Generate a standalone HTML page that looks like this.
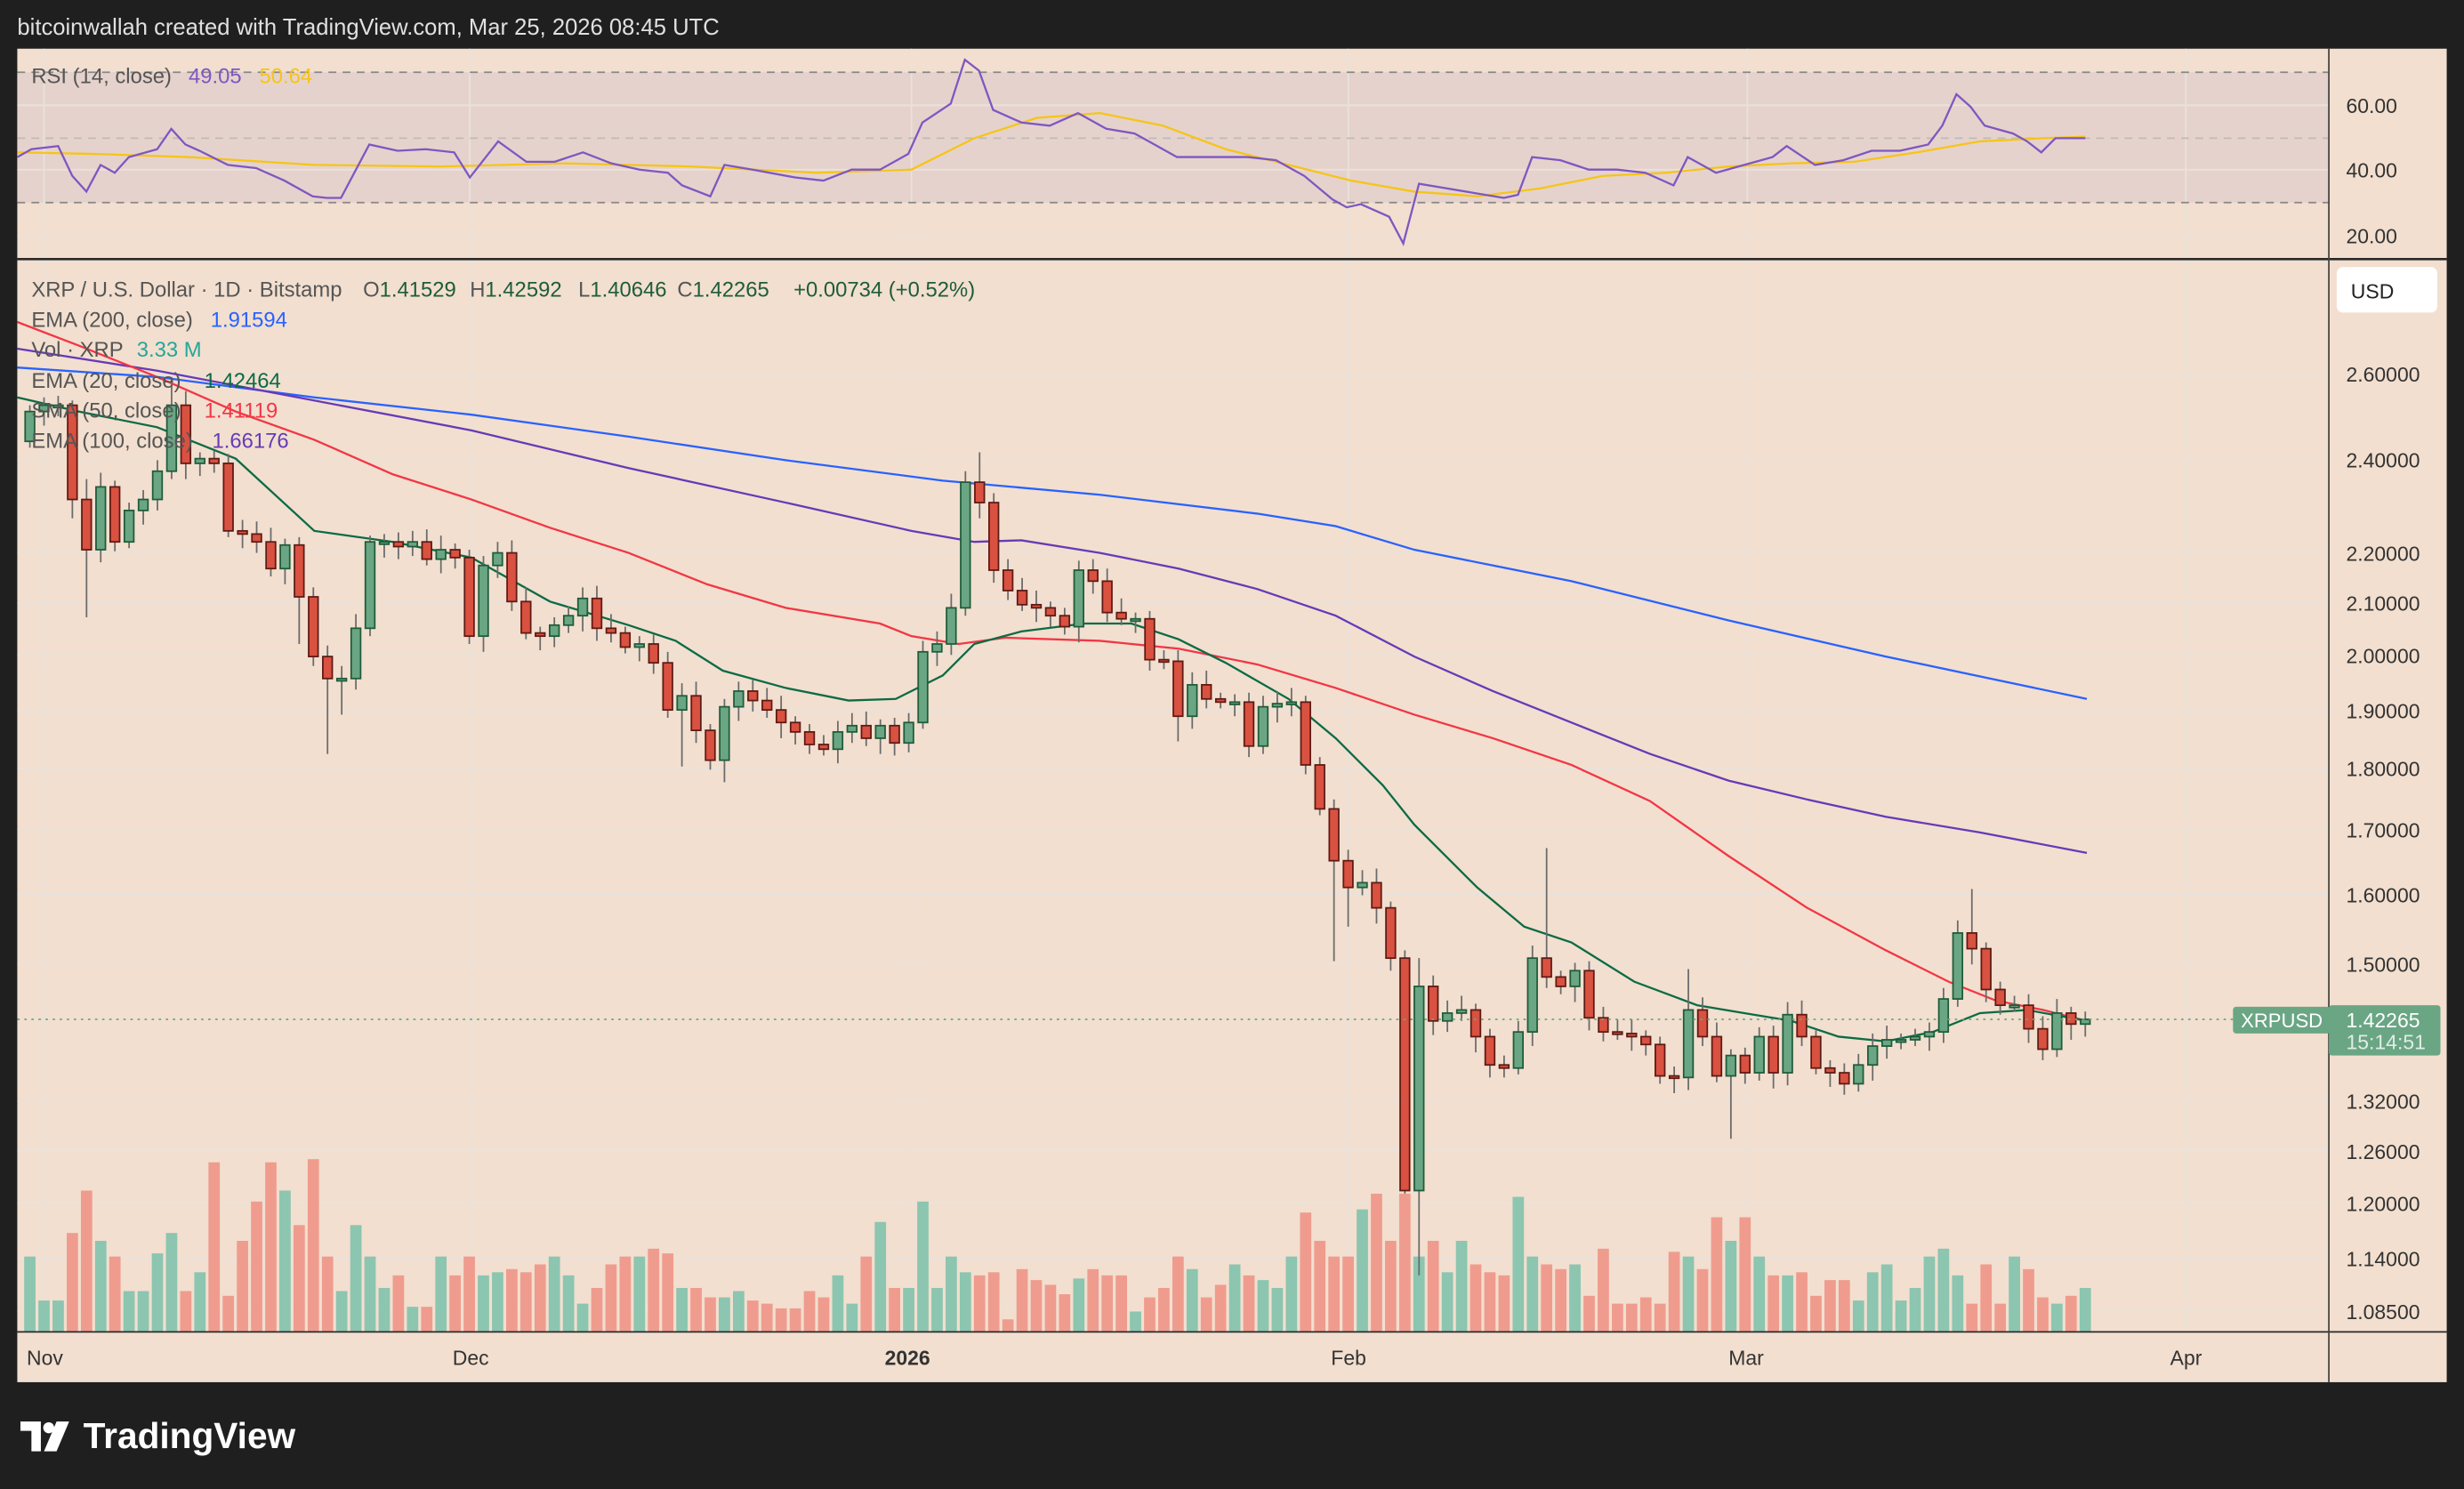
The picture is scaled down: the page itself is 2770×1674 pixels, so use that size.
<!DOCTYPE html>
<html><head><meta charset="utf-8"><style>
html,body{margin:0;padding:0;background:#1f1f1f;}
svg{display:block;}
text{font-family:"Liberation Sans",sans-serif;}
</style></head><body>
<svg id="s" xmlns="http://www.w3.org/2000/svg" width="2770" height="1674" viewBox="0 0 1568 948" preserveAspectRatio="none">
<rect x="0" y="0" width="1568" height="948" fill="#1f1f1f"/>
<text x="11" y="22" font-size="14.5" fill="#e0e0e0">bitcoinwallah created with TradingView.com, Mar 25, 2026 08:45 UTC</text>
<rect x="11" y="31" width="1546" height="849" fill="#f2dfcf"/>
<rect x="11" y="46" width="1471" height="83" fill="#e6d2cc"/>
<g id="grid" stroke="#e9e2dc" stroke-width="1"></g>
<g stroke="#888" stroke-width="1" stroke-dasharray="5,4">
<line x1="11" y1="46" x2="1482" y2="46"/><line x1="11" y1="88" x2="1482" y2="88" stroke="#bbb"/><line x1="11" y1="129" x2="1482" y2="129"/>
</g>
<g id="vol"></g>
<g id="lines" fill="none" stroke-width="1.3"></g>
<g id="candles"></g>
<line x1="11" y1="649" x2="1421" y2="649" stroke="#6aa684" stroke-dasharray="1.5,3"/>
<line x1="11" y1="165" x2="1557" y2="165" stroke="#2a2a2a" stroke-width="1.5"/>
<line x1="11" y1="848" x2="1557" y2="848" stroke="#2a2a2a" stroke-width="1"/>
<line x1="1482" y1="31" x2="1482" y2="880" stroke="#444" stroke-width="1"/>
<g font-size="13" fill="#333">
<text x="1493" y="72">60.00</text><text x="1493" y="113">40.00</text><text x="1493" y="155">20.00</text>
</g>
<g id="plab" font-size="13" fill="#333"></g>
<rect x="1487" y="170" width="64" height="29" rx="4" fill="#fff"/>
<text x="1496" y="190" font-size="13" fill="#222">USD</text>
<rect x="1421" y="641" width="62" height="17" rx="2" fill="#6aa684"/>
<text x="1426" y="654" font-size="12.5" fill="#fff">XRPUSD</text>
<rect x="1482" y="640" width="71" height="32" rx="2" fill="#6aa684"/>
<text x="1493" y="654" font-size="13" fill="#fff">1.42265</text>
<text x="1493" y="668" font-size="13" fill="#e0ece6">15:14:51</text>
<g font-size="13" fill="#333">
<text x="17" y="869">Nov</text><text x="288" y="869">Dec</text><text x="563" y="869" font-weight="bold">2026</text><text x="847" y="869">Feb</text><text x="1100" y="869">Mar</text><text x="1381" y="869">Apr</text>
</g>
<g font-size="13.5">
<text x="20" y="53" fill="#555">RSI (14, close)<tspan x="120" fill="#7e57c2">49.05</tspan><tspan x="165" fill="#f5c518">50.64</tspan></text>
<text x="20" y="189" fill="#555">XRP / U.S. Dollar · 1D · Bitstamp<tspan x="231">O</tspan><tspan fill="#1e5c3a">1.41529</tspan><tspan x="299">H</tspan><tspan fill="#1e5c3a">1.42592</tspan><tspan x="368">L</tspan><tspan fill="#1e5c3a">1.40646</tspan><tspan x="431">C</tspan><tspan fill="#1e5c3a">1.42265</tspan><tspan x="505" fill="#1e5c3a">+0.00734 (+0.52%)</tspan></text>
<text x="20" y="208" fill="#555">EMA (200, close)<tspan x="134" fill="#2962ff">1.91594</tspan></text>
<text x="20" y="227" fill="#555">Vol · XRP<tspan x="87" fill="#26a69a">3.33 M</tspan></text>
<text x="20" y="247" fill="#555">EMA (20, close)<tspan x="130" fill="#0b6b45">1.42464</tspan></text>
<text x="20" y="266" fill="#555">SMA (50, close)<tspan x="130" fill="#f23645">1.41119</tspan></text>
<text x="20" y="285" fill="#555">EMA (100, close)<tspan x="135" fill="#673ab7">1.66176</tspan></text>
</g>
<g fill="#fff">
<path d="M13 905h13v19h-6v-13h-7z"/><circle cx="31" cy="909" r="3.5"/><path d="M36 905h8l-8 19h-8z"/>
<text x="53" y="922" font-size="23" font-weight="bold">TradingView</text>
</g>
</svg>
<script>
(function(){
var NS="http://www.w3.org/2000/svg";
function el(p,t,a){var e=document.createElementNS(NS,t);for(var k in a)e.setAttribute(k,a[k]);p.appendChild(e);return e;}
function Y(p){return 238+(Math.log(2.6)-Math.log(p))*683;}
var grid=document.getElementById('grid');
[28,299,580,858,1112,1391].forEach(function(x){el(grid,'line',{x1:x,y1:31,x2:x,y2:848});});
var prices=[2.6,2.4,2.2,2.1,2.0,1.9,1.8,1.7,1.6,1.5,1.32,1.26,1.2,1.14,1.085];
var pl=document.getElementById('plab');
prices.forEach(function(p){var y=Y(p);el(grid,'line',{x1:11,y1:y,x2:1482,y2:y});
var t=el(pl,'text',{x:1493,y:y+5});t.textContent=p.toFixed(5);});
[67,108,150].forEach(function(y){el(grid,'line',{x1:11,y1:y,x2:1482,y2:y});});
var closes=[262,258,258,318,350,310,345,325,318,300,258,295,292,295,338,340,345,362,347,380,418,432,432,400,345,345,348,345,356,350,355,
405,360,352,383,403,405,398,392,381,400,403,412,410,422,452,443,465,484,450,440,446,452,460,466,474,477,466,462,470,462,473,460,
415,410,387,307,320,363,376,385,387,392,399,363,370,390,394,394,420,421,456,436,445,447,447,475,450,448,447,487,515,548,565,
562,578,610,758,628,650,645,643,660,678,680,657,610,622,628,618,648,657,658,660,665,685,686,643,660,685,672,683,660,683,646,660,680,683,690,678,666,662,662,660,657,636,594,604,630,640,640,655,668,645,652,649];
var ov={4:[305,393],21:[null,480],22:[null,455],49:[null,498],66:[300,null],67:[288,null],81:[null,472],92:[null,612],93:[null,590],97:[null,760],98:[610,812],107:[540,null],120:[null,725],137:[566,null],117:[617,null],3:[255,330],10:[240,null],19:[null,410],46:[null,488]};
var vols=[800,828,828,785,758,790,800,822,822,798,785,822,810,740,825,790,765,740,758,780,738,800,822,780,800,820,812,832,832,800,812,800,812,810,808,810,805,800,812,830,820,805,800,800,795,798,820,820,826,826,822,828,830,833,833,822,826,812,830,800,778,820,820,765,820,800,810,812,810,840,808,815,818,824,814,808,812,812,835,826,820,800,808,826,818,805,812,815,820,800,772,790,800,800,770,760,790,760,800,790,810,790,805,810,812,762,800,805,808,805,825,795,830,830,826,830,797,800,808,775,790,775,800,812,812,810,825,815,815,828,810,805,828,820,800,795,812,830,805,830,800,808,826,830,825,820,830,800,840];
var n=closes.length,step=(1327-19)/(n-1);
var cg=document.getElementById('candles'),vg=document.getElementById('vol');
var prev=281;
for(var i=0;i<n;i++){
 var x=19+i*step,o=prev,c=closes[i];prev=c;
 var up=c<=o,bt=Math.min(o,c),bb=Math.max(o,c);
 var h=bt-4-((i*7)%6),l=bb+4+((i*5)%7);
 if(ov[i]){if(ov[i][0]!=null)h=ov[i][0];if(ov[i][1]!=null)l=ov[i][1];}
 var v=vols[i]||820;
 el(vg,'rect',{x:x-3.6,y:v,width:7.2,height:848-v,fill:up?'#8cc5b0':'#ef9c8e'});
 el(cg,'line',{x1:x,y1:h,x2:x,y2:l,stroke:'#6b6b6b','stroke-width':1});
 el(cg,'rect',{x:x-3,y:bt,width:6,height:Math.max(bb-bt,1.5),fill:up?'#6aa684':'#d95140',stroke:up?'#1e5c3a':'#5e1a14','stroke-width':1});
}
var lg=document.getElementById('lines');
function pl2(pts,col,w){el(lg,'polyline',{points:pts.map(function(p){return p.join(',')}).join(' '),stroke:col,'stroke-width':w||1.3,fill:'none'});}
pl2([[11,234],[100,240],[200,253],[300,264],[400,278],[500,293],[600,306],[700,315],[800,327],[850,335],[900,350],[1000,370],[1100,395],[1200,418],[1328,445]],'#2962ff');
pl2([[11,222],[100,236],[200,255],[300,274],[400,298],[500,320],[580,338],[620,345],[650,344],[700,352],[750,362],[800,375],[850,392],[900,418],[950,440],[1000,460],[1050,480],[1100,497],[1150,509],[1200,520],[1260,530],[1328,543]],'#673ab7');
pl2([[11,205],[50,220],[100,240],[150,262],[200,280],[250,302],[300,318],[350,336],[400,352],[450,372],[500,387],[560,397],[580,405],[610,410],[640,406],[700,408],[750,413],[800,423],[850,438],[900,455],[950,470],[1000,487],[1050,510],[1100,545],[1150,578],[1200,605],[1240,625],[1270,637],[1300,643],[1328,650]],'#f23645');
pl2([[11,253],[50,262],[100,272],[150,292],[200,338],[250,345],[300,355],[350,383],[400,398],[430,408],[460,427],[500,438],[540,446],[570,445],[600,430],[620,410],[650,402],[690,397],[720,397],[750,407],[780,422],[820,445],[850,470],[880,500],[900,525],[940,565],[970,590],[1000,600],[1040,625],[1080,640],[1110,645],[1140,650],[1170,660],[1200,663],[1230,657],[1260,645],[1290,643],[1328,650]],'#0b6b45');
pl2([[11,97],[60,98],[120,100],[200,105],[280,106],[360,104],[440,106],[520,110],[580,108],[620,88],[660,75],[700,72],[740,80],[780,95],[820,105],[860,115],[900,122],[940,125],[980,120],[1020,112],[1060,110],[1100,106],[1140,104],[1180,103],[1220,97],[1260,90],[1300,88],[1327,87]],'#f5c518');
pl2([[11,100],[20,95],[37,93],[46,112],[55,122],[64,105],[73,110],[82,100],[100,95],[109,82],[118,92],[127,96],[145,105],[163,107],[181,115],[199,125],[208,126],[217,126],[235,92],[253,96],[271,95],[289,97],[299,113],[317,90],[335,103],[353,103],[371,97],[389,104],[407,108],[425,110],[434,118],[452,125],[461,105],[479,108],[506,113],[524,115],[542,108],[560,108],[578,98],[587,78],[605,66],[614,38],[623,45],[632,70],[650,78],[668,80],[686,72],[704,82],[722,85],[731,90],[749,100],[767,100],[794,100],[812,102],[830,112],[848,127],[857,132],[866,130],[884,138],[893,155],[903,117],[921,120],[939,123],[957,126],[966,124],[975,100],[993,102],[1011,108],[1029,108],[1047,110],[1065,118],[1074,100],[1092,110],[1110,105],[1128,100],[1137,93],[1155,105],[1173,102],[1191,96],[1209,96],[1227,92],[1236,80],[1245,60],[1254,68],[1263,80],[1281,85],[1290,90],[1299,97],[1308,88],[1327,88]],'#7e57c2');
})();
</script>
</body></html>
